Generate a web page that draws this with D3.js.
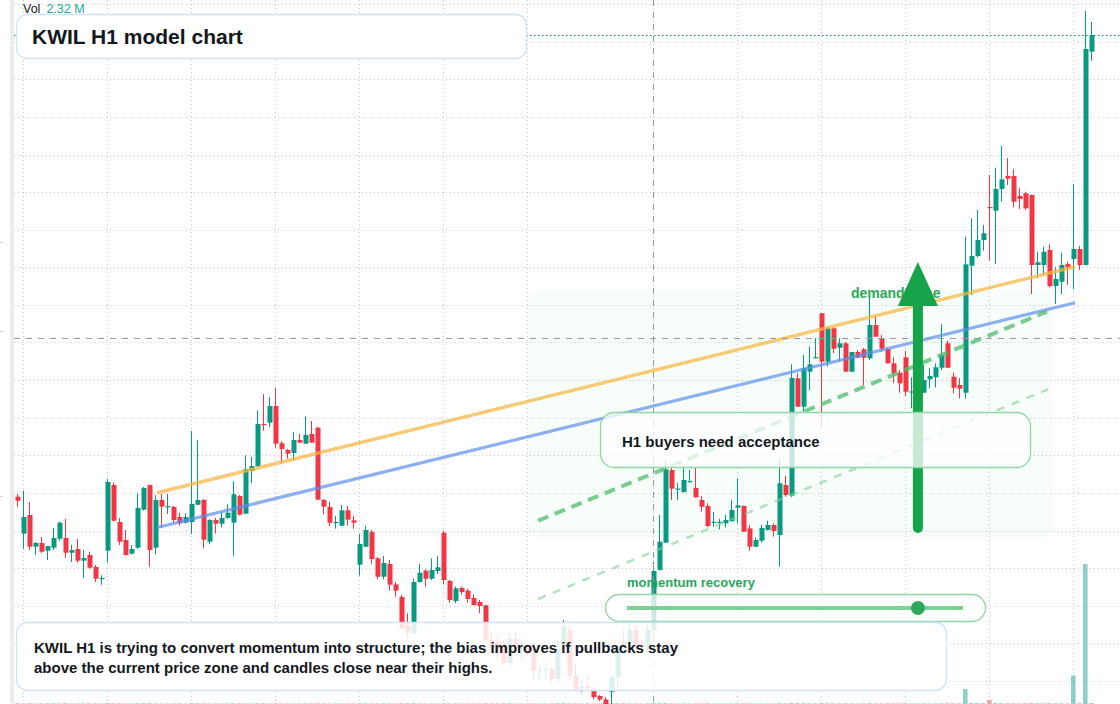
<!DOCTYPE html>
<html>
<head>
<meta charset="utf-8">
<script src="https://cdn.jsdelivr.net/npm/d3@7"></script>
<style>
  html, body { margin: 0; padding: 0; background: #fff; overflow: hidden; }
  svg { display: block; font-family: "Liberation Sans", Arial, sans-serif; }
</style>
</head>
<body>
<svg id="chart" width="1120" height="704"></svg>
<script>
// KWIL H1 candles, bar index 0..179
const opens = [
  3.033,2.663,2.85,2.533,2.57,2.493,2.523,2.613,2.62,2.473, 2.51,2.393,2.45,2.33,2.213,2.493,3.15,2.78,2.60,2.463,
  2.523,2.903,3.15,2.523,3.00,2.932,2.93,2.83,2.773,2.78, 2.953,3.00,2.583,2.80,2.763,2.82,2.773,3.04,2.863,3.29,
  3.337,3.76,3.773,3.94,3.567,3.50,3.47,3.60,3.563,3.66, 3.723,3.00,2.93,2.77,2.743,2.897,2.797,2.353,2.533,2.68,
  2.417,2.233,2.36,2.157,2.03,1.747,1.667,2.18,2.293,2.213, 2.29,2.673,2.19,1.99,2.12,2.093,2.02,1.98,1.947,1.60,
  1.59,1.57,1.37,1.61,1.535,1.53,1.46,1.29,1.30,1.31, 1.21,1.51,1.70,1.24,1.12,1.14,1.10,1.04,1.005,1.08,
  1.23,1.58,1.57,1.70,1.57,1.53,1.70,2.30,2.573,3.30, 3.11,3.08,3.184,3.12,3.00,2.94,2.777,2.777,2.767,2.787,
  2.923,2.94,2.717,2.533,2.593,2.70,2.75,2.65,3.15,3.043, 4.217,3.933,4.283,4.422,4.867,4.383,4.717,4.523,4.567,4.283,
  4.48,4.507,4.417,4.75,4.617,4.51,4.367,4.273,4.427,4.08, 4.09,4.073,4.207,4.227,4.323,4.567,4.233,4.15,4.073,5.343,
  5.44,5.60,5.93,5.893,6.11,6.24,6.24,6.04,6.067,6.05, 5.35,5.35,5.50,5.14,5.183,5.36,5.41,5.51,5.35,7.483
];
const highs = [
  3.06,3.093,2.98,2.58,2.63,2.54,2.72,2.783,2.81,2.553, 2.61,2.50,2.483,2.35,2.247,3.213,3.177,2.82,2.70,2.55,
  3.067,3.13,3.155,3.05,3.06,3.06,2.94,2.873,2.867,3.69, 3.60,3.01,2.81,2.82,2.877,2.957,3.187,3.05,3.447,3.43,
  3.897,4.06,4.03,4.12,3.59,3.51,3.68,3.66,3.837,3.79, 3.733,3.01,2.983,2.84,2.95,2.94,2.84,2.66,2.743,2.70,
  2.43,2.44,2.40,2.183,2.053,1.867,2.213,2.36,2.307,2.417, 2.44,2.693,2.20,2.133,2.133,2.113,2.053,2.00,1.95,1.68,
  1.65,1.60,1.66,1.68,1.60,1.57,1.57,1.35,1.37,1.33, 1.60,1.80,1.75,1.37,1.20,1.24,1.13,1.05,1.03,1.25,
  1.55,1.70,1.80,1.75,1.60,1.75,2.38,2.85,3.393,3.333, 3.17,3.317,3.30,3.32,3.04,2.967,2.88,2.813,2.85,3.00,
  3.217,2.945,2.75,2.627,2.75,2.793,2.767,3.407,3.24,4.357, 4.267,4.45,4.533,4.617,4.87,4.727,4.73,4.617,4.58,4.48,
  4.50,4.52,5.05,4.84,4.65,4.52,4.427,4.30,4.493,4.227, 4.25,4.35,4.317,4.367,4.757,4.593,4.273,4.217,5.633,5.817,
  5.90,5.75,6.25,6.323,6.54,6.42,6.307,6.117,6.083,6.055, 5.483,5.533,5.557,5.327,5.473,5.383,6.16,5.54,7.89,7.78
];
const lows = [
  2.933,2.51,2.50,2.45,2.47,2.40,2.50,2.593,2.423,2.38, 2.373,2.223,2.313,2.18,2.153,2.373,2.783,2.55,2.443,2.455,
  2.513,2.895,2.333,2.457,2.723,2.86,2.773,2.743,2.767,2.66, 2.95,2.517,2.557,2.663,2.727,2.815,2.443,2.845,2.86,3.17,
  3.33,3.693,3.727,3.523,3.357,3.413,3.393,3.57,3.56,3.57, 3.00,2.86,2.74,2.713,2.74,2.743,2.713,2.243,2.53,2.363,
  2.207,2.207,2.093,2.033,1.71,1.617,1.66,2.175,2.133,2.20, 2.257,2.157,1.973,1.967,2.053,1.973,1.945,1.867,1.595,1.48,
  1.40,1.35,1.34,1.50,1.40,1.44,1.20,1.20,1.20,1.18, 1.18,1.50,1.20,1.09,1.08,1.10,1.01,0.99,0.94,0.90,
  1.10,1.52,1.55,1.50,1.48,1.50,1.60,2.295,2.57,3.00, 3.00,3.073,3.18,3.025,2.883,2.727,2.733,2.707,2.727,2.785,
  2.767,2.68,2.493,2.53,2.573,2.695,2.633,2.333,3.033,3.03, 3.93,3.883,4.10,4.417,3.733,4.333,4.467,4.383,4.28,4.28,
  4.42,4.15,4.40,4.63,4.483,4.365,4.167,4.073,4.04,3.917, 4.00,4.07,4.117,4.127,4.30,4.32,4.067,4.017,4.017,5.05,
  5.427,5.493,5.393,5.36,5.983,6.15,5.927,5.91,5.90,5.06, 5.217,5.253,5.127,4.96,5.06,5.15,5.11,5.30,5.345,7.393
];
const closes = [
  2.993,2.83,2.533,2.57,2.483,2.54,2.62,2.773,2.473,2.50, 2.393,2.42,2.323,2.213,2.22,3.18,2.793,2.583,2.45,2.51,
  2.92,3.12,2.50,3.00,2.933,2.938,2.80,2.767,2.83,2.96, 3.00,2.603,2.80,2.763,2.82,2.873,3.057,2.853,3.31,3.34,
  3.76,3.755,3.94,3.563,3.51,3.463,3.60,3.573,3.65,3.573, 3.003,2.933,2.773,2.78,2.897,2.803,2.773,2.56,2.70,2.41,
  2.233,2.37,2.153,2.093,1.72,1.677,2.18,2.273,2.213,2.30, 2.327,2.20,2.00,2.117,2.08,2.01,1.95,1.94,1.60,1.52,
  1.48,1.37,1.61,1.54,1.54,1.47,1.29,1.295,1.31,1.21, 1.51,1.73,1.24,1.10,1.13,1.12,1.03,1.005,0.96,1.23,
  1.50,1.53,1.70,1.53,1.53,1.70,2.29,2.583,3.307,3.113, 3.115,3.20,3.188,3.027,2.933,2.74,2.782,2.782,2.80,2.90,
  2.947,2.683,2.533,2.60,2.72,2.75,2.69,3.167,3.05,4.22, 3.933,4.317,4.357,4.428,4.383,4.717,4.513,4.567,4.283,4.48,
  4.423,4.423,4.75,4.633,4.513,4.367,4.267,4.167,4.083,4.086, 4.19,4.20,4.24,4.327,4.45,4.323,4.123,4.113,5.357,5.44,
  5.60,5.667,5.92,6.11,6.207,6.213,5.983,6.01,5.917,5.35, 5.377,5.483,5.14,5.21,5.35,5.323,5.51,5.35,7.51,7.65
];
// volume in millions
const volumes = [
  0.011,0.009,0.012,0.008,0.010,0.009,0.011,0.010,0.012,0.008, 0.009,0.010,0.011,0.009,0.008,0.012,0.011,0.010,0.009,0.008,
  0.010,0.011,0.012,0.010,0.009,0.008,0.009,0.010,0.008,0.012, 0.011,0.010,0.009,0.008,0.009,0.010,0.011,0.009,0.010,0.008,
  0.012,0.010,0.009,0.011,0.010,0.008,0.009,0.008,0.010,0.009, 0.012,0.010,0.009,0.008,0.010,0.009,0.008,0.011,0.010,0.009,
  0.010,0.009,0.011,0.008,0.012,0.010,0.011,0.009,0.008,0.009, 0.008,0.011,0.010,0.009,0.008,0.009,0.008,0.009,0.012,0.010,
  0.009,0.010,0.011,0.008,0.008,0.009,0.010,0.008,0.008,0.009, 0.011,0.012,0.010,0.009,0.008,0.008,0.009,0.008,0.010,0.012,
  0.011,0.009,0.010,0.009,0.008,0.010,0.014,0.012,0.013,0.010, 0.008,0.009,0.008,0.009,0.010,0.011,0.008,0.008,0.009,0.010,
  0.011,0.010,0.011,0.008,0.009,0.008,0.008,0.012,0.009,0.014, 0.012,0.011,0.010,0.009,0.013,0.011,0.010,0.009,0.011,0.010,
  0.008,0.010,0.012,0.010,0.009,0.010,0.011,0.010,0.012,0.009, 0.010,0.010,0.009,0.009,0.011,0.012,0.011,0.010,0.250,0.014,
  0.013,0.011,0.066,0.014,0.013,0.010,0.012,0.009,0.011,0.015, 0.010,0.011,0.013,0.010,0.011,0.009,0.470,0.012,2.320,0.014
];

// time grid falls on session starts
const gridBars = [1, 15, 29, 43, 57, 71, 85, 106, 120, 134, 148, 162, 176];
const gridPrices = [7.959,7.583,7.207,6.831,6.455,6.079,5.703,5.327,4.951,4.575,
                    4.199,3.823,3.447,3.071,2.695,2.319,1.943,1.567,1.191];
// stray marks of the left price scale, mostly off-screen
const leftScaleTicks = [5.58, 4.69, 3.04];

// drawings: [bar, price] anchors
const resistanceLine = [[23.3, 3.073], [176.3, 5.333]];
const supportLine = [[23.3, 2.725], [176.3, 4.973]];
const channelUpper = [[86.8, 2.793], [171.6, 4.883]];
const channelLower = [[86.8, 2.01], [171.8, 4.107]];
const demandZone = { from: 85.1, to: 172.4, top: 5.10, bottom: 2.62 };
const demandArrow = { bar: 150.1, from: 2.72, to: 5.38 };
const crosshair = { bar: 106, price: 4.62 };
const momentum = 0.866;

const title = "KWIL H1 model chart";
const noteLines = [
  "KWIL H1 is trying to convert momentum into structure; the bias improves if pullbacks stay",
  "above the current price zone and candles close near their highs."
];

const W = 1120, H = 704;
const UP = "#089981", DOWN = "#f23645";

const svg = d3.select("#chart");
const x = d3.scaleLinear().domain([0, 179]).range([17.3, 1091.3]);
const y = d3.scaleLinear().domain([1, 8]).range([700, 0]);
const v = d3.scaleLinear().domain([0, d3.max(volumes)]).range([H, 564]);
const bars = d3.range(opens.length);

svg.append("rect").attr("width", W).attr("height", H).attr("fill", "#fff");
svg.append("rect").attr("x", 10).attr("y", 0).attr("width", 4).attr("height", H).attr("fill", "#ececec");
svg.append("g").selectAll("line").data(leftScaleTicks).enter().append("line")
    .attr("x1", 0).attr("x2", 3)
    .attr("y1", d => Math.round(y(d)) + 0.5).attr("y2", d => Math.round(y(d)) + 0.5)
    .attr("stroke", "#d6d6d6");

// grid
const grid = svg.append("g").attr("stroke", "#c9c9ce").attr("stroke-width", 1).attr("stroke-dasharray", "1,3");
grid.selectAll("line.h").data(gridPrices).enter().append("line")
    .attr("x1", 14).attr("x2", W)
    .attr("y1", d => Math.round(y(d)) + 0.5).attr("y2", d => Math.round(y(d)) + 0.5);
grid.selectAll("line.v").data(gridBars).enter().append("line")
    .attr("y1", 0).attr("y2", H)
    .attr("x1", d => Math.round(x(d)) + 0.5).attr("x2", d => Math.round(x(d)) + 0.5);

// demand zone
svg.append("rect")
    .attr("x", x(demandZone.from)).attr("width", x(demandZone.to) - x(demandZone.from))
    .attr("y", y(demandZone.top)).attr("height", y(demandZone.bottom) - y(demandZone.top))
    .attr("rx", 12).attr("fill", "rgba(34,197,94,0.035)");

// volume
svg.append("g").selectAll("rect").data(bars).enter().append("rect")
    .attr("x", i => x(i) - 2.3).attr("width", 4.6)
    .attr("y", i => v(volumes[i])).attr("height", i => H - v(volumes[i]))
    .attr("fill", i => closes[i] >= opens[i] ? "rgba(8,153,129,0.45)" : "rgba(242,54,69,0.45)");

// candles
const candle = svg.append("g").selectAll("g").data(bars).enter().append("g")
    .attr("fill", i => closes[i] >= opens[i] ? UP : DOWN)
    .attr("stroke", i => closes[i] >= opens[i] ? UP : DOWN);
candle.append("line")
    .attr("x1", i => Math.round(x(i)) + 0.5).attr("x2", i => Math.round(x(i)) + 0.5)
    .attr("y1", i => y(highs[i])).attr("y2", i => y(lows[i]))
    .attr("stroke-width", 1);
candle.append("rect")
    .attr("stroke", "none")
    .attr("x", i => Math.round(x(i)) - 1.5).attr("width", 5)
    .attr("y", i => y(Math.max(opens[i], closes[i])))
    .attr("height", i => Math.max(1.2, Math.abs(y(opens[i]) - y(closes[i]))));

// trend lines
const seg = d3.line().x(d => x(d[0])).y(d => y(d[1]));
svg.append("path").attr("d", seg(resistanceLine)).attr("fill", "none")
    .attr("stroke", "#f6b640").attr("stroke-opacity", 0.72).attr("stroke-width", 3.5);
svg.append("path").attr("d", seg(supportLine)).attr("fill", "none")
    .attr("stroke", "#5d8ff0").attr("stroke-opacity", 0.7).attr("stroke-width", 3.2);
svg.append("path").attr("d", seg(channelUpper)).attr("fill", "none")
    .attr("stroke", "#4cbb6c").attr("stroke-opacity", 0.75).attr("stroke-width", 4)
    .attr("stroke-dasharray", "11,7");
svg.append("path").attr("d", seg(channelLower)).attr("fill", "none")
    .attr("stroke", "#7fd198").attr("stroke-opacity", 0.6).attr("stroke-width", 2.5)
    .attr("stroke-dasharray", "8,8");

// last price line
const lastY = Math.round(y(closes[closes.length - 1])) + 0.5;
svg.append("line").attr("x1", 14).attr("x2", W).attr("y1", lastY).attr("y2", lastY)
    .attr("stroke", UP).attr("stroke-width", 1).attr("stroke-dasharray", "1.5,2.5");

// crosshair
const cx = Math.round(x(crosshair.bar)) + 0.5, cy = Math.round(y(crosshair.price)) + 0.5;
const cross = svg.append("g").attr("stroke", "#9598a1").attr("stroke-width", 1).attr("stroke-dasharray", "6,6");
cross.append("line").attr("x1", cx).attr("x2", cx).attr("y1", 0).attr("y2", H);
cross.append("line").attr("x1", 14).attr("x2", W).attr("y1", cy).attr("y2", cy);

// demand zone label + arrow
svg.append("text").attr("x", 851).attr("y", 298)
    .attr("font-size", 14).attr("font-weight", "bold").attr("fill", "#2fa85c")
    .text("demand zone");
const ax = x(demandArrow.bar);
const tipY = y(demandArrow.to), headBase = tipY + 44;
svg.append("line").attr("x1", ax).attr("x2", ax)
    .attr("y1", y(demandArrow.from)).attr("y2", headBase - 2)
    .attr("stroke", "#16a34a").attr("stroke-width", 10).attr("stroke-linecap", "round");
svg.append("path")
    .attr("d", `M${ax},${tipY} L${ax + 20},${headBase} L${ax - 20},${headBase} Z`)
    .attr("fill", "#16a34a");

// annotation panels
function panel(px, py, pw, ph, r, stroke, fill) {
  return svg.append("rect").attr("x", px + 0.5).attr("y", py + 0.5)
      .attr("width", pw).attr("height", ph).attr("rx", r)
      .attr("fill", fill).attr("stroke", stroke).attr("stroke-width", 1.3);
}

panel(600, 412, 430, 55, 14, "#8fd6a5", "rgba(255,255,255,0.76)");
svg.append("text").attr("x", 622).attr("y", 447)
    .attr("font-size", 15).attr("font-weight", "bold").attr("fill", "#131722")
    .text("H1 buyers need acceptance");

svg.append("text").attr("x", 627).attr("y", 587)
    .attr("font-size", 13).attr("font-weight", "bold").attr("fill", "#2aa65a")
    .text("momentum recovery");
panel(605, 594, 380, 27, 13.5, "#8fd6a5", "rgba(255,255,255,0.78)");
const slider = d3.scaleLinear().domain([0, 1]).range([627, 963]);
svg.append("line").attr("x1", slider(0)).attr("x2", slider(1)).attr("y1", 608).attr("y2", 608)
    .attr("stroke", "#7dcf98").attr("stroke-width", 4);
svg.append("circle").attr("cx", slider(momentum)).attr("cy", 608).attr("r", 7).attr("fill", "#2ea85c");

panel(16, 622, 930, 68, 11, "#d3e2fb", "rgba(255,255,255,0.86)");
svg.append("g").selectAll("text").data(noteLines).enter().append("text")
    .attr("x", 34).attr("y", (d, k) => 653 + k * 20)
    .attr("font-size", 15).attr("font-weight", "bold").attr("fill", "#131722")
    .text(d => d);

panel(16, 14, 510, 44, 11, "#d3e2fb", "rgba(255,255,255,0.97)");
svg.append("text").attr("x", 32).attr("y", 43.5)
    .attr("font-size", 21).attr("font-weight", "bold").attr("fill", "#131722")
    .text(title);

// volume legend
const legend = svg.append("text").attr("x", 23).attr("y", 13).attr("font-size", 12.5);
legend.append("tspan").attr("fill", "#131722").text("Vol");
legend.append("tspan").attr("dx", 6).attr("fill", "#22ab94")
    .text(d3.max(volumes).toFixed(2) + " M");
</script>
</body>
</html>
